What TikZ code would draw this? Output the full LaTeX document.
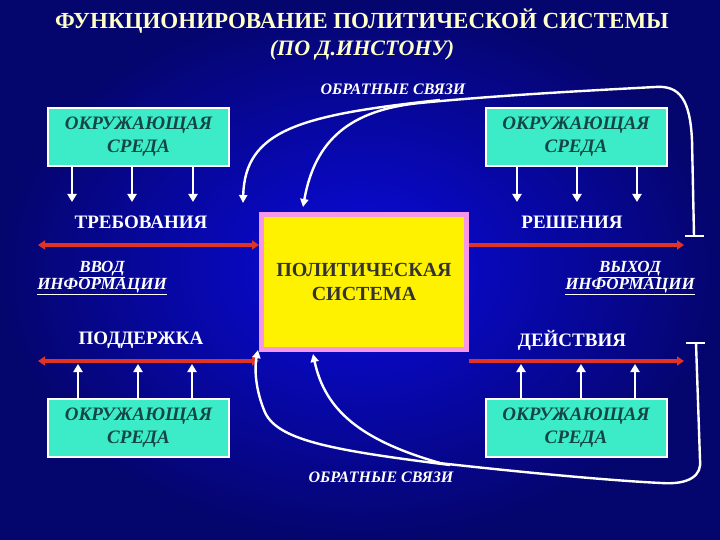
\documentclass[tikz,border=0pt]{standalone}
\usepackage{fontspec}
\setmainfont{Liberation Serif}
\usetikzlibrary{arrows.meta}
\definecolor{bgin}{RGB}{10,10,225}
\definecolor{bgout}{RGB}{5,5,110}
\definecolor{envc}{RGB}{60,235,200}
\definecolor{envt}{RGB}{20,70,70}
\definecolor{redl}{RGB}{225,50,40}
\definecolor{pinkb}{RGB}{245,150,230}
\definecolor{titc}{RGB}{255,255,200}
\tikzset{
  env/.style={draw=white,line width=2pt,fill=envc,minimum width=181pt,minimum height=58pt,align=center,font=\bfseries\itshape\fontsize{19}{23}\selectfont,text=envt},
  lbl/.style={text=white,font=\bfseries\fontsize{19}{21}\selectfont},
  fbl/.style={text=white,font=\bfseries\itshape\fontsize{16}{18}\selectfont},
  io/.style={text=white,font=\bfseries\itshape\fontsize{17}{18}\selectfont,align=center},
  warr/.style={white,line width=2.6pt,-{Triangle[length=8pt,width=9pt]}},
  rarr/.style={redl,line width=3.2pt},
  fb/.style={white,line width=2.4pt},
  tip/.style={-{Triangle[length=8pt,width=8pt]}},
}
\begin{document}
\begin{tikzpicture}[x=1pt,y=-1pt]
\useasboundingbox (0,0) rectangle (720,540);
\shade[inner color=bgin,outer color=bgout] (0,0) rectangle (720,540);
\node[text=titc,font=\bfseries\fontsize{23}{25}\selectfont] (t1) at (362,21) {ФУНКЦИОНИРОВАНИЕ ПОЛИТИЧЕСКОЙ СИСТЕМЫ};
\node[text=titc,font=\bfseries\itshape\fontsize{22}{24}\selectfont] (t2) at (362,50) {(ПО Д.ИНСТОНУ)};
\node[fbl] (fbt) at (393,89) {ОБРАТНЫЕ СВЯЗИ};
\node[fbl] (fbb) at (381,477) {ОБРАТНЫЕ СВЯЗИ};
\node[env] (e1) at (138.5,137) {ОКРУЖАЮЩАЯ\\СРЕДА};
\node[env] (e2) at (576,137) {ОКРУЖАЮЩАЯ\\СРЕДА};
\node[env] (e3) at (138.5,428) {ОКРУЖАЮЩАЯ\\СРЕДА};
\node[env] (e4) at (576,428) {ОКРУЖАЮЩАЯ\\СРЕДА};
\node[draw=pinkb,line width=5pt,fill=yellow,minimum width=205pt,minimum height=135pt,align=center,font=\bfseries\fontsize{20}{24}\selectfont,text=black!80] (ps) at (364,282) {ПОЛИТИЧЕСКАЯ\\СИСТЕМА};
\node[lbl] (tr) at (141,222) {ТРЕБОВАНИЯ};
\node[lbl] (re) at (572,222) {РЕШЕНИЯ};
\node[lbl] (po) at (141,340) {ПОДДЕРЖКА};
\node[lbl] (de) at (572,340) {ДЕЙСТВИЯ};
\node[io] (vv) at (102,278) {\underline{ВВОД}\\[-1pt]\underline{ИНФОРМАЦИИ}};
\node[io] (vy) at (630,278) {\underline{ВЫХОД}\\[-1pt]\underline{ИНФОРМАЦИИ}};
% env arrows
\foreach \x in {72,132,193}{\draw[warr] (\x,166) -- (\x,202);}
\foreach \x in {517,577,637}{\draw[warr] (\x,166) -- (\x,202);}
\foreach \x in {78,138,192}{\draw[warr] (\x,398) -- (\x,364);}
\foreach \x in {521,581,635}{\draw[warr] (\x,398) -- (\x,364);}
% red lines
\coordinate (l1) at (38,245); \coordinate (l2) at (38,361);
\coordinate (r1) at (684,245); \coordinate (r2) at (684,361);
\draw[rarr,{Triangle[length=7pt,width=9pt]}-{Triangle[length=7pt,width=9pt]}] (l1) -- (ps.west |- l1);
\draw[rarr,{Triangle[length=7pt,width=9pt]}-{Triangle[length=7pt,width=9pt]}] (l2) -- (ps.west |- l2);
\draw[rarr,-{Triangle[length=7pt,width=9pt]}] (ps.east |- r1) -- (r1);
\draw[rarr,-{Triangle[length=7pt,width=9pt]}] (ps.east |- r2) -- (r2);
% feedback top
\coordinate (tk1) at (694,236);
\draw[fb] (685,236) -- (704,236);
\draw[fb] (tk1) -- (692,140) .. controls (690,100) and (680,85) .. (655,87)
  .. controls (600,90) and (500,95) .. (420,103);
\draw[fb,tip] (440,100) .. controls (300,115) and (245,130) .. (243,203);
\draw[fb,tip] (420,103) .. controls (350,110) and (315,140) .. (303,207);
% feedback bottom
\coordinate (tk2) at (696,343);
\draw[fb] (686,343) -- (705,343);
\draw[fb] (tk2) -- (700,460) .. controls (702,475) and (690,485) .. (661,483)
  .. controls (600,480) and (500,470) .. (430,462);
\draw[fb,tip] (450,465) .. controls (330,450) and (275,440) .. (264,410)
  .. controls (254,385) and (255,365) .. (258,350);
\draw[fb,tip] (440,463) .. controls (360,440) and (325,410) .. (313,354);
\end{tikzpicture}
\end{document}
